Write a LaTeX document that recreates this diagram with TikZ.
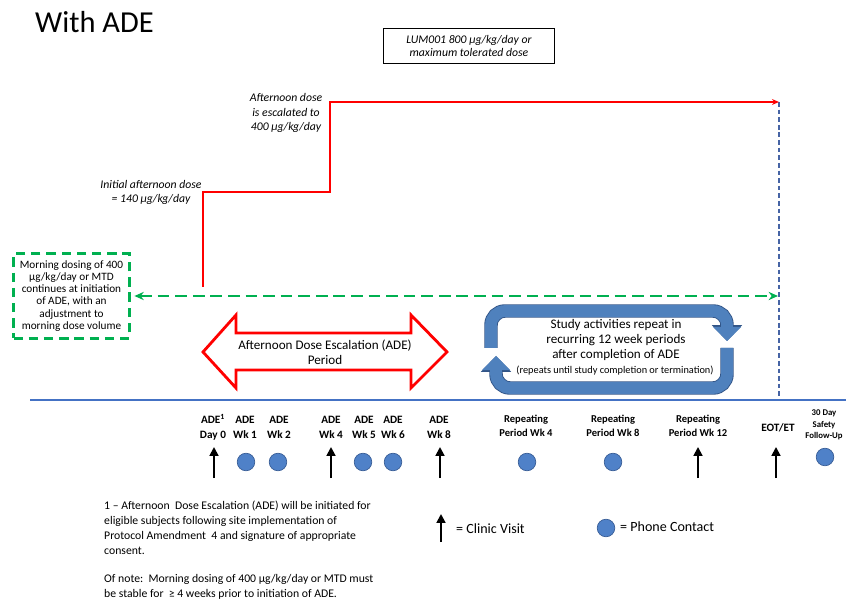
\documentclass[tikz,border=0pt]{standalone}
\usepackage{fontspec}
\setmainfont{Carlito}
\usepackage{xcolor}
\usetikzlibrary{arrows.meta}

\definecolor{stepred}{RGB}{255,0,0}
\definecolor{morninggreen}{RGB}{0,176,80}
\definecolor{axisblue}{RGB}{68,114,196}
\definecolor{eotblue}{RGB}{70,100,165}
\definecolor{phoneblue}{RGB}{79,129,200}
\definecolor{phoneedge}{RGB}{56,93,150}
\definecolor{loopblue}{RGB}{79,129,189}
\definecolor{loopedge}{RGB}{50,85,135}

\begin{document}
\begin{tikzpicture}[x=0.03cm,y=-0.03cm,
    every node/.style={inner sep=0pt, align=center},
    ticklabel/.style={font=\fontsize{9.6}{12.8}\selectfont\bfseries},
    replabel/.style={font=\fontsize{9}{12.5}\selectfont\bfseries},
    dosenote/.style={font=\fontsize{10}{12}\selectfont\itshape},
    footnote/.style={font=\fontsize{10}{12.7}\selectfont, align=left, anchor=north west},
    legend/.style={font=\fontsize{12}{14}\selectfont, anchor=west},
    visit/.style={line width=1.6pt, -{Triangle[width=7.5pt,length=7.5pt]}},
    phone/.style={circle, fill=phoneblue, draw=phoneedge, line width=0.6pt, minimum size=15pt},
    stepline/.style={stepred, line width=2.5pt, -{Stealth[length=6pt,width=5pt]}},
    eotline/.style={eotblue, line width=1.3pt, dash pattern=on 4pt off 2.5pt},
    morningbox/.style={draw=morninggreen, line width=2.4pt, dash pattern=on 8pt off 5pt,
      minimum width=99pt, minimum height=72pt, font=\fontsize{9.6}{10.3}\selectfont},
    morningline/.style={morninggreen, line width=2.2pt, dash pattern=on 10pt off 5pt,
      {Stealth[length=8pt,width=7pt]}-{Stealth[length=8pt,width=7pt]}},
    periodarrow/.style={draw=stepred, line width=2.4pt, line join=miter},
    loopband/.style={loopblue, line width=10pt, rounded corners=0.42cm,
      -{Triangle[width=24pt,length=12pt,line width=0pt]},
      preaction={draw=loopedge, line width=11.5pt, rounded corners=0.42cm,
        -{Triangle[width=26pt,length=13.5pt,line width=0pt]}}}]
  \useasboundingbox (0,0) rectangle (846,601);

  \node[anchor=base west, font=\fontsize{26}{30}\selectfont] (title) at (35,33) {With ADE};
  \node[draw, line width=0.7pt, minimum width=146pt, minimum height=30pt,
    font=\fontsize{10}{11.5}\selectfont\itshape] (dosebox) at (469,46)
    {LUM001 800 µg/kg/day or\\maximum tolerated dose};

  % afternoon dose steps
  \coordinate (s0) at (203,287);
  \coordinate (s1) at (203,192);
  \coordinate (s2) at (330,192);
  \coordinate (s3) at (330,102);
  \coordinate (eot) at (779,102);
  \coordinate (eotbase) at (779,400);
  \draw[eotline] (eot) -- (eotbase);
  \draw[stepline] (s0) -- (s1) -- (s2) -- (s3) -- (eot);
  \node[dosenote] (initdose) at (151,192) {Initial afternoon dose\\= 140 µg/kg/day};
  \node[dosenote, font=\fontsize{10}{12.4}\selectfont\itshape] (escdose) at (286,113)
    {Afternoon dose\\is escalated to\\400 µg/kg/day};

  % morning dose
  \node[morningbox] (morning) at (71.5,296)
    {Morning dosing of 400\\µg/kg/day or MTD\\continues at initiation\\of ADE, with an\\adjustment to\\morning dose volume};
  \coordinate (morningend) at (778,296);
  \draw[morningline] ([xshift=3pt]morning.east) -- (morningend);

  % ADE period
  \draw[periodarrow] (203,352) -- (236,315) -- (236,333) -- (411,333) -- (411,315)
    -- (447,352) -- (411,388) -- (411,370) -- (236,370) -- (236,388) -- cycle;
  \node[font=\fontsize{11.2}{12.8}\selectfont] (period) at (325,352)
    {Afternoon Dose Escalation (ADE)\\Period};

  % repeating periods
  \draw[loopband] (491,348) -- (491,311) -- (727,311) -- (727,341);
  \draw[loopband] (727,348) -- (727,388) -- (496,388) -- (496,356);
  \node[font=\fontsize{11.2}{12.8}\selectfont] (loopnote) at (616,340)
    {Study activities repeat in\\recurring 12 week periods\\after completion of ADE};
  \node[font=\fontsize{8.8}{10}\selectfont] (loopsub) at (615,371)
    {(repeats until study completion or termination)};

  % timeline
  \coordinate (axisL) at (30,400);
  \coordinate (axisR) at (846,400);
  \draw[axisblue, line width=1.8pt] (axisL) -- (axisR);
  \foreach \x/\name/\txt in {213/d0/{ADE\textsuperscript{1}\\Day 0}, 245/w1/{ADE\\Wk 1},
      279/w2/{ADE\\Wk 2}, 331/w4/{ADE\\Wk 4}, 364/w5/{ADE\\Wk 5}, 393/w6/{ADE\\Wk 6},
      439/w8/{ADE\\Wk 8}}
    \node[ticklabel] (\name) at (\x,427) {\txt};
  \foreach \x/\name/\txt in {526/r4/{Repeating\\Period Wk 4}, 613/r8/{Repeating\\Period Wk 8},
      698/r12/{Repeating\\Period Wk 12}}
    \node[replabel] (\name) at (\x,426) {\txt};
  \node[ticklabel] (eotet) at (778,428) {EOT/ET};
  \node[ticklabel, font=\fontsize{7.5}{10}\selectfont\bfseries] (fu) at (824,425)
    {30 Day\\Safety\\Follow-Up};
  \foreach \x in {214,331,440,698,776}
    \draw[visit] (\x,478) -- (\x,447);
  \foreach \x in {246,278,363,393,527,613}
    \node[phone] (p\x) at (\x,462) {};
  \node[phone] (pfu) at (825,457) {};

  % legend
  \coordinate (legA) at (441,542);
  \coordinate (legB) at (441,514);
  \draw[visit] (legA) -- (legB);
  \node[legend] (visitlbl) at (456,529) {= Clinic Visit};
  \node[phone] (legphone) at (606,528) {};
  \node[legend] (phonelbl) at (620,527) {= Phone Contact};

  % footnotes
  \node[footnote] (note1) at (104,501)
    {1 -- Afternoon\ \ Dose Escalation (ADE) will be initiated for\\eligible subjects following site implementation of\\Protocol Amendment\ \ 4 and signature of appropriate\\consent.};
  \node[footnote] (note2) at (104,574)
    {Of note:\ \ Morning dosing of 400 µg/kg/day or MTD must\\be stable for\ \ ≥ 4 weeks prior to initiation of ADE.};
\end{tikzpicture}
\end{document}
